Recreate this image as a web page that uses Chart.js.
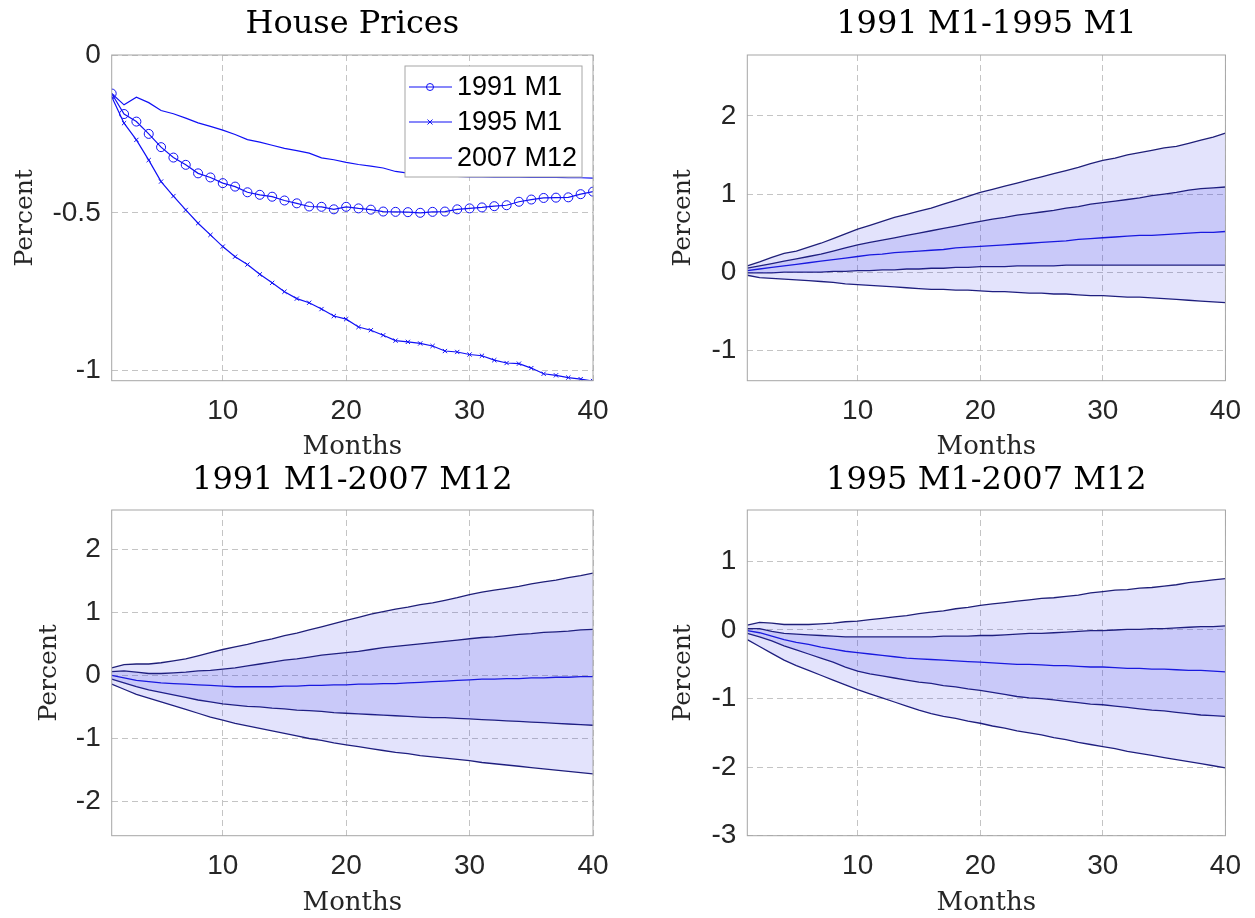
<!DOCTYPE html>
<html>
<head>
<meta charset="utf-8">
<script src="https://cdn.jsdelivr.net/npm/chart.js@4.4.1/dist/chart.umd.min.js"></script>
<style>
  html, body { margin: 0; padding: 0; background: #ffffff; width: 1255px; height: 918px; overflow: hidden; }
  canvas { position: absolute; display: block; }
</style>
</head>
<body>
<canvas id="c1" width="627" height="459" style="left:0px;top:0px"></canvas>
<canvas id="c2" width="628" height="459" style="left:627px;top:0px"></canvas>
<canvas id="c3" width="627" height="459" style="left:0px;top:459px"></canvas>
<canvas id="c4" width="628" height="459" style="left:627px;top:459px"></canvas>
<script>
// ---------- DATA ----------
const months = [1,2,3,4,5,6,7,8,9,10,11,12,13,14,15,16,17,18,19,20,
                21,22,23,24,25,26,27,28,29,30,31,32,33,34,35,36,37,38,39,40];
const xTicks = [10, 20, 30, 40];

// Panel 1: House Prices
const hpTitle = 'House Prices';
const hpLabels = ['1991 M1', '1995 M1', '2007 M12'];
const hp1991 = [-0.122,-0.187,-0.211,-0.250,-0.292,-0.325,-0.348,-0.375,-0.388,-0.406,
                -0.417,-0.435,-0.443,-0.449,-0.461,-0.470,-0.480,-0.481,-0.489,-0.481,
                -0.486,-0.490,-0.496,-0.497,-0.498,-0.500,-0.497,-0.496,-0.489,-0.486,
                -0.483,-0.479,-0.476,-0.465,-0.458,-0.453,-0.452,-0.451,-0.441,-0.433];
const hp1995 = [-0.132,-0.216,-0.269,-0.333,-0.401,-0.447,-0.491,-0.533,-0.570,-0.607,
                -0.639,-0.664,-0.695,-0.722,-0.750,-0.772,-0.785,-0.805,-0.827,-0.837,
                -0.862,-0.872,-0.888,-0.905,-0.909,-0.914,-0.922,-0.938,-0.941,-0.949,
                -0.953,-0.967,-0.976,-0.978,-0.992,-1.010,-1.015,-1.022,-1.027,-1.033];
const hp2007 = [-0.122,-0.158,-0.134,-0.151,-0.176,-0.186,-0.200,-0.215,-0.226,-0.238,
                -0.252,-0.268,-0.276,-0.286,-0.296,-0.303,-0.311,-0.326,-0.332,-0.340,
                -0.347,-0.352,-0.358,-0.369,-0.374,-0.377,-0.381,-0.384,-0.385,-0.386,
                -0.386,-0.387,-0.387,-0.387,-0.388,-0.388,-0.388,-0.389,-0.389,-0.390];
const hpTicks = [0, -0.5, -1];
const hpTickLabels = ['0', '-0.5', '-1'];

// Panel 2: 1991 M1-1995 M1
const p2Title = '1991 M1-1995 M1';
const p2UpperOuter = [0.08,0.13,0.19,0.24,0.27,0.32,0.37,0.43,0.49,0.55,
                      0.60,0.65,0.70,0.74,0.78,0.82,0.87,0.92,0.97,1.02,
                      1.06,1.10,1.14,1.18,1.22,1.26,1.30,1.34,1.39,1.43,
                      1.46,1.50,1.53,1.56,1.59,1.61,1.65,1.69,1.73,1.78];
const p2UpperInner = [0.05,0.08,0.11,0.14,0.17,0.20,0.23,0.27,0.31,0.35,
                      0.38,0.41,0.44,0.47,0.50,0.53,0.56,0.59,0.62,0.65,
                      0.68,0.70,0.73,0.75,0.77,0.79,0.82,0.84,0.87,0.89,
                      0.91,0.93,0.95,0.98,1.00,1.02,1.05,1.07,1.08,1.09];
const p2Median =     [0.02,0.04,0.06,0.08,0.10,0.12,0.14,0.16,0.18,0.20,
                      0.22,0.23,0.25,0.26,0.27,0.28,0.29,0.31,0.32,0.33,
                      0.34,0.35,0.36,0.37,0.38,0.39,0.40,0.42,0.43,0.44,
                      0.45,0.46,0.47,0.47,0.48,0.49,0.50,0.51,0.51,0.52];
const p2LowerInner = [-0.01,-0.01,-0.01,0.00,0.00,0.00,0.00,0.01,0.01,0.02,
                      0.02,0.03,0.03,0.04,0.04,0.05,0.05,0.06,0.06,0.07,
                      0.07,0.07,0.08,0.08,0.08,0.08,0.09,0.09,0.09,0.09,
                      0.09,0.09,0.09,0.09,0.09,0.09,0.09,0.09,0.09,0.09];
const p2LowerOuter = [-0.04,-0.07,-0.08,-0.09,-0.10,-0.11,-0.12,-0.13,-0.15,-0.16,
                      -0.17,-0.18,-0.19,-0.20,-0.21,-0.22,-0.22,-0.23,-0.23,-0.24,
                      -0.25,-0.25,-0.26,-0.27,-0.27,-0.28,-0.28,-0.29,-0.30,-0.30,
                      -0.31,-0.32,-0.32,-0.33,-0.34,-0.35,-0.36,-0.37,-0.38,-0.39];
const p2Ticks = [-1, 0, 1, 2];

// Panel 3: 1991 M1-2007 M12
const p3Title = '1991 M1-2007 M12';
const p3UpperOuter = [0.12,0.17,0.18,0.18,0.20,0.23,0.26,0.31,0.36,0.41,
                      0.45,0.49,0.54,0.58,0.63,0.67,0.72,0.77,0.82,0.87,
                      0.92,0.97,1.01,1.05,1.08,1.12,1.15,1.19,1.23,1.28,
                      1.32,1.35,1.38,1.41,1.45,1.48,1.51,1.55,1.58,1.62];
const p3UpperInner = [0.06,0.07,0.05,0.03,0.03,0.04,0.05,0.07,0.08,0.10,
                      0.12,0.15,0.18,0.21,0.24,0.26,0.29,0.32,0.34,0.36,
                      0.38,0.41,0.44,0.46,0.48,0.50,0.52,0.54,0.56,0.58,
                      0.60,0.61,0.63,0.65,0.66,0.68,0.69,0.70,0.72,0.73];
const p3Median =     [0.00,-0.04,-0.08,-0.10,-0.12,-0.13,-0.14,-0.15,-0.16,-0.17,
                      -0.18,-0.18,-0.18,-0.18,-0.17,-0.17,-0.16,-0.16,-0.15,-0.15,
                      -0.14,-0.14,-0.13,-0.13,-0.12,-0.11,-0.10,-0.09,-0.08,-0.07,
                      -0.06,-0.06,-0.05,-0.05,-0.04,-0.04,-0.03,-0.03,-0.02,-0.02];
const p3LowerInner = [-0.06,-0.12,-0.18,-0.23,-0.27,-0.31,-0.35,-0.39,-0.42,-0.45,
                      -0.47,-0.49,-0.50,-0.52,-0.53,-0.55,-0.56,-0.57,-0.59,-0.60,
                      -0.61,-0.62,-0.63,-0.64,-0.65,-0.66,-0.67,-0.67,-0.68,-0.69,
                      -0.70,-0.71,-0.72,-0.73,-0.74,-0.75,-0.76,-0.77,-0.78,-0.79];
const p3LowerOuter = [-0.14,-0.22,-0.30,-0.36,-0.42,-0.48,-0.54,-0.60,-0.66,-0.71,
                      -0.76,-0.80,-0.84,-0.88,-0.92,-0.96,-1.00,-1.03,-1.07,-1.10,
                      -1.13,-1.16,-1.19,-1.22,-1.24,-1.27,-1.29,-1.31,-1.33,-1.35,
                      -1.38,-1.40,-1.42,-1.44,-1.46,-1.48,-1.50,-1.52,-1.54,-1.56];
const p3Ticks = [-2, -1, 0, 1, 2];

// Panel 4: 1995 M1-2007 M12
const p4Title = '1995 M1-2007 M12';
const p4UpperOuter = [0.07,0.11,0.10,0.08,0.08,0.08,0.09,0.10,0.12,0.13,
                      0.15,0.17,0.19,0.21,0.24,0.26,0.28,0.31,0.33,0.36,
                      0.38,0.40,0.42,0.44,0.46,0.47,0.49,0.51,0.54,0.56,
                      0.58,0.59,0.61,0.62,0.64,0.66,0.69,0.71,0.73,0.75];
const p4UpperInner = [0.02,0.02,-0.02,-0.05,-0.06,-0.07,-0.08,-0.09,-0.10,-0.10,
                      -0.10,-0.10,-0.10,-0.10,-0.10,-0.10,-0.09,-0.09,-0.09,-0.08,
                      -0.08,-0.07,-0.06,-0.05,-0.05,-0.04,-0.03,-0.02,-0.01,-0.01,
                      0.00,0.01,0.01,0.02,0.02,0.03,0.04,0.05,0.05,0.06];
const p4Median =     [-0.01,-0.04,-0.09,-0.14,-0.18,-0.21,-0.25,-0.28,-0.31,-0.33,
                      -0.35,-0.37,-0.39,-0.41,-0.42,-0.43,-0.44,-0.45,-0.46,-0.47,
                      -0.48,-0.49,-0.50,-0.50,-0.51,-0.52,-0.52,-0.53,-0.54,-0.54,
                      -0.55,-0.56,-0.56,-0.57,-0.57,-0.58,-0.59,-0.59,-0.60,-0.61];
const p4LowerInner = [-0.05,-0.10,-0.16,-0.23,-0.29,-0.35,-0.41,-0.47,-0.54,-0.60,
                      -0.64,-0.67,-0.70,-0.73,-0.76,-0.78,-0.81,-0.83,-0.86,-0.88,
                      -0.91,-0.94,-0.97,-0.99,-1.00,-1.02,-1.04,-1.06,-1.08,-1.09,
                      -1.11,-1.13,-1.15,-1.17,-1.18,-1.20,-1.22,-1.24,-1.25,-1.26];
const p4LowerOuter = [-0.14,-0.24,-0.34,-0.44,-0.52,-0.59,-0.66,-0.73,-0.80,-0.87,
                      -0.93,-0.99,-1.05,-1.11,-1.17,-1.22,-1.26,-1.29,-1.33,-1.36,
                      -1.40,-1.43,-1.47,-1.50,-1.53,-1.57,-1.60,-1.64,-1.67,-1.70,
                      -1.73,-1.77,-1.80,-1.83,-1.86,-1.89,-1.92,-1.95,-1.98,-2.01];
const p4Ticks = [-3, -2, -1, 0, 1];

// ---------- STYLE ----------
const SERIF = "'DejaVu Serif', 'Liberation Serif', serif";
const SANS = "'Liberation Sans', Arial, sans-serif";
const TICK_COLOR = '#262626';
const GRID_COLOR = '#c4c4c4';
const BOX_COLOR = '#a6a6a6';
const EDGE_COLOR = '#1f1f78';
const MEDIAN_COLOR = '#1414dc';
const OUTER_FILL = 'rgba(40,40,230,0.13)';
const INNER_FILL = 'rgba(40,40,230,0.25)';
const HP_COLOR = '#1010f5';

function pts(vals) { return months.map((m, i) => ({ x: m, y: vals[i] })); }

const framePlugin = {
  id: 'frame',
  afterDraw(chart) {
    const a = chart.chartArea, ctx = chart.ctx;
    ctx.save();
    ctx.strokeStyle = BOX_COLOR;
    ctx.lineWidth = 1;
    ctx.setLineDash([]);
    ctx.strokeRect(a.left, a.top, a.right - a.left, a.bottom - a.top);
    ctx.restore();
  }
};

function drawMarker(ctx, style, x, y, r) {
  ctx.beginPath();
  if (style === 'circle') {
    ctx.arc(x, y, r, 0, Math.PI * 2);
  } else if (style === 'crossRot') {
    ctx.moveTo(x - r, y - r); ctx.lineTo(x + r, y + r);
    ctx.moveTo(x - r, y + r); ctx.lineTo(x + r, y - r);
  }
  ctx.stroke();
}

const boxLegendPlugin = {
  id: 'boxLegend',
  afterDatasetsDraw(chart) {
    const a = chart.chartArea, ctx = chart.ctx;
    const w = 177, h = 111;
    const x0 = a.right - 11 - w, y0 = a.top + 11;
    ctx.save();
    ctx.fillStyle = '#ffffff';
    ctx.fillRect(x0, y0, w, h);
    ctx.strokeStyle = BOX_COLOR;
    ctx.lineWidth = 1;
    ctx.strokeRect(x0, y0, w, h);
    const rows = [y0 + 21, y0 + 56, y0 + 92];
    chart.data.datasets.forEach((ds, i) => {
      const yy = rows[i];
      ctx.strokeStyle = ds.borderColor;
      ctx.lineWidth = ds.borderWidth;
      ctx.beginPath();
      ctx.moveTo(x0 + 4, yy); ctx.lineTo(x0 + 47, yy);
      ctx.stroke();
      if (ds.pointRadius > 0) {
        ctx.lineWidth = 1;
        drawMarker(ctx, ds.pointStyle, x0 + 25, yy, ds.pointStyle === 'circle' ? 3.5 : 2.5);
      }
      ctx.fillStyle = '#000000';
      ctx.font = '27px ' + SANS;
      ctx.textAlign = 'left';
      ctx.textBaseline = 'middle';
      ctx.fillText(ds.label, x0 + 52, yy + 1);
    });
    ctx.restore();
  }
};

function makeOptions(cfg) {
  return {
    responsive: false,
    animation: false,
    devicePixelRatio: 1,
    layout: { padding: { left: 0, top: 0, right: cfg.padRight, bottom: 0 } },
    plugins: {
      legend: { display: false },
      tooltip: { enabled: false },
      title: {
        display: true,
        text: cfg.title,
        fullSize: false,
        color: '#000000',
        font: { family: SERIF, size: 32, weight: 'normal', lineHeight: 1.2 },
        padding: { top: cfg.titleTop, bottom: cfg.titleBottom }
      }
    },
    scales: {
      x: {
        type: 'linear',
        min: 1, max: 40,
        afterFit: (s) => { s.height = cfg.xAxisH; },
        afterBuildTicks: (s) => { s.ticks = xTicks.map(v => ({ value: v })); },
        grid: { color: GRID_COLOR, lineWidth: 1, drawTicks: false },
        border: { display: false, dash: [6, 4] },
        ticks: {
          color: TICK_COLOR, padding: 14, maxRotation: 0, autoSkip: false,
          font: { family: SANS, size: 28 },
          callback: (v) => String(v)
        },
        title: {
          display: true, text: 'Months', color: '#262626',
          font: { family: SERIF, size: 26, lineHeight: 1 },
          padding: { top: 0, bottom: cfg.monthsPad }
        }
      },
      y: {
        type: 'linear',
        min: cfg.yMin, max: cfg.yMax,
        afterFit: (s) => { s.width = cfg.plotLeft; },
        afterBuildTicks: (s) => { s.ticks = cfg.yTicks.map(v => ({ value: v })); },
        grid: { color: GRID_COLOR, lineWidth: 1, drawTicks: false },
        border: { display: false, dash: [6, 4] },
        ticks: {
          color: TICK_COLOR, padding: 11, autoSkip: false,
          font: { family: SANS, size: 28 },
          callback: cfg.yFmt
        },
        title: {
          display: true, text: 'Percent', color: '#262626',
          font: { family: SERIF, size: 25, lineHeight: 1 },
          padding: { top: cfg.percentPad, bottom: 0 }
        }
      }
    }
  };
}

function fanDatasets(uo, ui, md, li, lo) {
  const base = { pointRadius: 0, borderWidth: 1.3, tension: 0 };
  return [
    Object.assign({ label: 'upper outer', data: pts(uo), borderColor: EDGE_COLOR, backgroundColor: OUTER_FILL, fill: '+1' }, base),
    Object.assign({ label: 'upper inner', data: pts(ui), borderColor: EDGE_COLOR, backgroundColor: INNER_FILL, fill: 3 }, base),
    Object.assign({ label: 'median', data: pts(md), borderColor: MEDIAN_COLOR, fill: false }, base),
    Object.assign({ label: 'lower inner', data: pts(li), borderColor: EDGE_COLOR, backgroundColor: OUTER_FILL, fill: '+1' }, base),
    Object.assign({ label: 'lower outer', data: pts(lo), borderColor: EDGE_COLOR, fill: false }, base)
  ];
}

const numFmt = (v) => String(v);

// Panel 1
new Chart(document.getElementById('c1'), {
  type: 'line',
  data: {
    datasets: [
      { label: hpLabels[0], data: pts(hp1991), borderColor: HP_COLOR, borderWidth: 1.2, pointStyle: 'circle',
        pointRadius: 4.5, pointBorderWidth: 1, pointBackgroundColor: 'rgba(0,0,0,0)', pointBorderColor: HP_COLOR, fill: false, tension: 0 },
      { label: hpLabels[1], data: pts(hp1995), borderColor: HP_COLOR, borderWidth: 1.2, pointStyle: 'crossRot',
        pointRadius: 3, pointBorderWidth: 1, pointBorderColor: HP_COLOR, fill: false, tension: 0 },
      { label: hpLabels[2], data: pts(hp2007), borderColor: HP_COLOR, borderWidth: 1.2, pointRadius: 0, fill: false, tension: 0 }
    ]
  },
  options: makeOptions({
    title: hpTitle, titleTop: 5.5, titleBottom: 11.1, padRight: 34, xAxisH: 78.3, plotLeft: 111.7,
    yMin: -1.032, yMax: 0, yTicks: hpTicks,
    yFmt: (v) => hpTickLabels[hpTicks.indexOf(v)],
    percentPad: 13, monthsPad: -1
  }),
  plugins: [boxLegendPlugin, framePlugin]
});

// Panel 2
new Chart(document.getElementById('c2'), {
  type: 'line',
  data: { datasets: fanDatasets(p2UpperOuter, p2UpperInner, p2Median, p2LowerInner, p2LowerOuter) },
  options: makeOptions({
    title: p2Title, titleTop: 5.5, titleBottom: 11.1, padRight: 26.4, xAxisH: 78.3, plotLeft: 120.3,
    yMin: -1.39, yMax: 2.78, yTicks: p2Ticks, yFmt: numFmt, percentPad: 44, monthsPad: -1
  }),
  plugins: [framePlugin]
});

// Panel 3
new Chart(document.getElementById('c3'), {
  type: 'line',
  data: { datasets: fanDatasets(p3UpperOuter, p3UpperInner, p3Median, p3LowerInner, p3LowerOuter) },
  options: makeOptions({
    title: p3Title, titleTop: 2.8, titleBottom: 9.8, padRight: 34, xAxisH: 82.3, plotLeft: 111.7,
    yMin: -2.54, yMax: 2.62, yTicks: p3Ticks, yFmt: numFmt, percentPad: 37, monthsPad: 2
  }),
  plugins: [framePlugin]
});

// Panel 4
new Chart(document.getElementById('c4'), {
  type: 'line',
  data: { datasets: fanDatasets(p4UpperOuter, p4UpperInner, p4Median, p4LowerInner, p4LowerOuter) },
  options: makeOptions({
    title: p4Title, titleTop: 2.8, titleBottom: 9.8, padRight: 26.4, xAxisH: 82.3, plotLeft: 120.3,
    yMin: -3, yMax: 1.75, yTicks: p4Ticks, yFmt: numFmt, percentPad: 44, monthsPad: 2
  }),
  plugins: [framePlugin]
});
</script>
</body>
</html>
